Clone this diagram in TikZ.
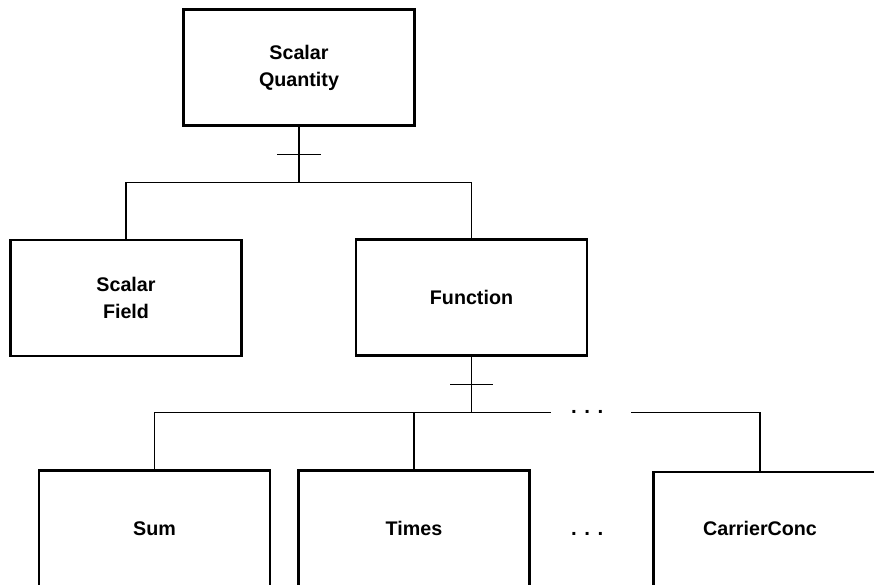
\documentclass[tikz,border=0pt]{standalone}
\usepackage{fontspec}
\setmainfont{Liberation Sans}
\usetikzlibrary{calc}
\begin{document}
\begin{tikzpicture}[x=1pt,y=-1pt,
  cls/.style={draw, line width=2.6pt, minimum width=231pt, minimum height=116pt,
    inner sep=0pt, align=center, font=\fontsize{19.7}{27.5}\selectfont\bfseries},
  lbl/.style={inner sep=0pt, font=\fontsize{19.7}{27.5}\selectfont\bfseries},
  link/.style={line width=1.1pt},
  tick/.style={line width=0.9pt},
  ellip/.style={inner sep=0pt, anchor=base, font=\fontsize{20.5}{24}\selectfont\bfseries}
]
\clip (0,0) rectangle (874,585);

% class boxes
\node[cls] (sq) at (299,67.7) {Scalar\\Quantity};
\node[cls] (sf) at (126,298) {Scalar\\Field};
\node[cls] (fn) at (471.5,297.5) {Function};
\node[cls] (sum) at (154.5,528.7) {Sum};
\node[cls] (times) at (414,528.7) {Times};
\node[cls, anchor=north west] (cc) at (652,470.7) {};
\node[lbl] (cclabel) at (760,528.7) {CarrierConc};

% first level: Scalar Quantity -> Scalar Field, Function
\coordinate (b1) at (299,182.7);
\draw[link] (sq.south) -- (b1);
\draw[link] (sf.north) -- (sf.north |- b1) -- (fn.north |- b1) -- (fn.north);
\coordinate (t1) at ($(sq.south)!0.5!(b1)$);
\draw[tick] ([xshift=-22pt]t1) -- ([xshift=22pt]t1);

% second level: Function -> Sum, Times, ..., CarrierConc
\coordinate (b2) at (471.5,412.7);
\draw[link] (fn.south) -- (b2);
\coordinate (gapL) at (550.7,412.7);
\coordinate (gapR) at (631,412.7);
\draw[link] (sum.north) -- (sum.north |- b2) -- (gapL);
\draw[link] (times.north) -- (times.north |- b2);
\draw[link] (gapR) -- (cclabel |- b2) -- (cclabel |- cc.north);
\coordinate (t2) at ($(fn.south)!0.5!(b2)$);
\draw[tick] ([xshift=-21.5pt]t2) -- ([xshift=21.5pt]t2);

% ellipses
\node[ellip] (dotsTop) at (587.3,413.2) {. . .};
\node[ellip] (dotsMid) at (587.3,535.5) {. . .};
\end{tikzpicture}
\end{document}
